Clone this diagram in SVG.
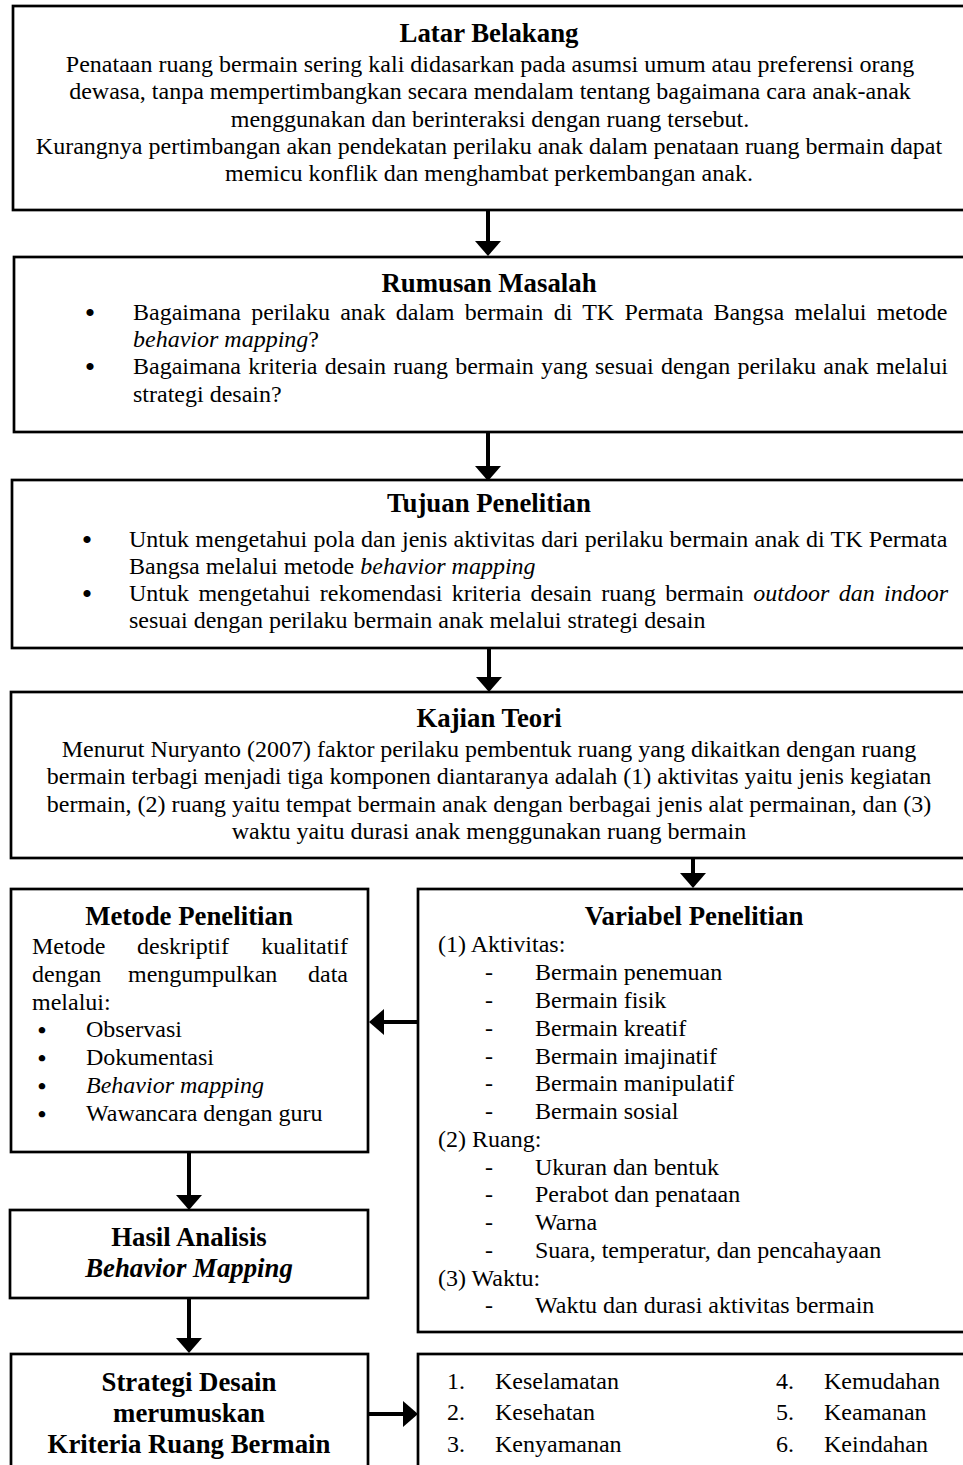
<svg xmlns="http://www.w3.org/2000/svg" width="963" height="1465" viewBox="0 0 963 1465">
<style>
text { font-family: "Liberation Serif", "Times New Roman", serif; font-size: 24px; fill: #000; }
.t { font-weight: bold; font-size: 26.8px; text-anchor: middle; }
.c { text-anchor: middle; }
.b { text-anchor: middle; font-size: 30px; }
.bs { text-anchor: middle; font-size: 24px; font-weight: bold; }
.i { font-style: italic; }
.box { fill: #fff; stroke: #000; stroke-width: 2.7; }
.arr { stroke: #000; stroke-width: 4; fill: none; marker-end: url(#ah); }
</style>
<defs>
<marker id="ah" markerUnits="userSpaceOnUse" markerWidth="16" markerHeight="26" refX="0" refY="13" orient="auto" viewBox="0 0 16 26">
<path d="M0,0 L15,13 L0,26 z" fill="#000"/>
</marker>
</defs>
<rect width="963" height="1465" fill="#fff"/>

<g id="latar">
<rect class="box" x="13" y="6" width="953" height="204"/>
<text class="t" x="489" y="42">Latar Belakang</text>
<text class="c" x="490" y="72">Penataan ruang bermain sering kali didasarkan pada asumsi umum atau preferensi orang</text>
<text class="c" x="490" y="99">dewasa, tanpa mempertimbangkan secara mendalam tentang bagaimana cara anak-anak</text>
<text class="c" x="490" y="127">menggunakan dan berinteraksi dengan ruang tersebut.</text>
<text class="c" x="489" y="154">Kurangnya pertimbangan akan pendekatan perilaku anak dalam penataan ruang bermain dapat</text>
<text class="c" x="489" y="181">memicu konflik dan menghambat perkembangan anak.</text>
</g>

<g id="rumusan">
<rect class="box" x="14" y="257" width="952" height="175"/>
<text class="t" x="489" y="292">Rumusan Masalah</text>
<text class="b" x="90" y="323">•</text>
<text x="133" y="320" word-spacing="4.3">Bagaimana perilaku anak dalam bermain di TK Permata Bangsa melalui metode</text>
<text x="133" y="347"><tspan class="i">behavior mapping</tspan>?</text>
<text class="b" x="90" y="377">•</text>
<text x="133" y="374" word-spacing="1.25">Bagaimana kriteria desain ruang bermain yang sesuai dengan perilaku anak melalui</text>
<text x="133" y="402">strategi desain?</text>
</g>

<g id="tujuan">
<rect class="box" x="12" y="480" width="954" height="168"/>
<text class="t" x="489" y="512">Tujuan Penelitian</text>
<text class="b" x="87" y="550">•</text>
<text x="129" y="547" word-spacing="0.26">Untuk mengetahui pola dan jenis aktivitas dari perilaku bermain anak di TK Permata</text>
<text x="129" y="574">Bangsa melalui metode <tspan class="i">behavior mapping</tspan></text>
<text class="b" x="87" y="604">•</text>
<text x="129" y="601" word-spacing="3.4">Untuk mengetahui rekomendasi kriteria desain ruang bermain <tspan class="i">outdoor dan indoor</tspan></text>
<text x="129" y="628">sesuai dengan perilaku bermain anak melalui strategi desain</text>
</g>

<g id="kajian">
<rect class="box" x="11" y="692" width="955" height="166"/>
<text class="t" x="489" y="727">Kajian Teori</text>
<text class="c" x="489" y="757">Menurut Nuryanto (2007) faktor perilaku pembentuk ruang yang dikaitkan dengan ruang</text>
<text class="c" x="489" y="784">bermain terbagi menjadi tiga komponen diantaranya adalah (1) aktivitas yaitu jenis kegiatan</text>
<text class="c" x="489" y="812">bermain, (2) ruang yaitu tempat bermain anak dengan berbagai jenis alat permainan, dan (3)</text>
<text class="c" x="489" y="839">waktu yaitu durasi anak menggunakan ruang bermain</text>
</g>

<g id="metode">
<rect class="box" x="11" y="889" width="357" height="263"/>
<text class="t" x="189" y="925">Metode Penelitian</text>
<text x="32" y="954">Metode</text>
<text x="137" y="954">deskriptif</text>
<text x="348" y="954" text-anchor="end">kualitatif</text>
<text x="32" y="982">dengan</text>
<text x="128" y="982">mengumpulkan</text>
<text x="348" y="982" text-anchor="end">data</text>
<text x="32" y="1010">melalui:</text>
<text class="bs" x="42" y="1038">•</text>
<text x="86" y="1037">Observasi</text>
<text class="bs" x="42" y="1066">•</text>
<text x="86" y="1065">Dokumentasi</text>
<text class="bs" x="42" y="1094">•</text>
<text x="86" y="1093" class="i">Behavior mapping</text>
<text class="bs" x="42" y="1122">•</text>
<text x="86" y="1121">Wawancara dengan guru</text>
</g>

<g id="variabel">
<rect class="box" x="418" y="889" width="548" height="443"/>
<text class="t" x="694" y="925">Variabel Penelitian</text>
<text x="438" y="952">(1) Aktivitas:</text>
<text class="c" x="489" y="980">-</text><text x="535" y="980">Bermain penemuan</text>
<text class="c" x="489" y="1008">-</text><text x="535" y="1008">Bermain fisik</text>
<text class="c" x="489" y="1036">-</text><text x="535" y="1036">Bermain kreatif</text>
<text class="c" x="489" y="1064">-</text><text x="535" y="1064">Bermain imajinatif</text>
<text class="c" x="489" y="1091">-</text><text x="535" y="1091">Bermain manipulatif</text>
<text class="c" x="489" y="1119">-</text><text x="535" y="1119">Bermain sosial</text>
<text x="438" y="1147">(2) Ruang:</text>
<text class="c" x="489" y="1175">-</text><text x="535" y="1175">Ukuran dan bentuk</text>
<text class="c" x="489" y="1202">-</text><text x="535" y="1202">Perabot dan penataan</text>
<text class="c" x="489" y="1230">-</text><text x="535" y="1230">Warna</text>
<text class="c" x="489" y="1258">-</text><text x="535" y="1258">Suara, temperatur, dan pencahayaan</text>
<text x="438" y="1286">(3) Waktu:</text>
<text class="c" x="489" y="1313">-</text><text x="535" y="1313">Waktu dan durasi aktivitas bermain</text>
</g>

<g id="hasil">
<rect class="box" x="10" y="1210" width="358" height="88"/>
<text class="t" x="189" y="1246">Hasil Analisis</text>
<text class="t i" x="189" y="1277">Behavior Mapping</text>
</g>

<g id="strategi">
<rect class="box" x="11" y="1354" width="357" height="120"/>
<text class="t" x="189" y="1391">Strategi Desain</text>
<text class="t" x="189" y="1422">merumuskan</text>
<text class="t" x="189" y="1453">Kriteria Ruang Bermain</text>
</g>

<g id="kriteria">
<rect class="box" x="418" y="1354" width="548" height="120"/>
<text x="447" y="1389">1.</text><text x="495" y="1389">Keselamatan</text>
<text x="447" y="1420">2.</text><text x="495" y="1420">Kesehatan</text>
<text x="447" y="1452">3.</text><text x="495" y="1452">Kenyamanan</text>
<text x="776" y="1389">4.</text><text x="824" y="1389">Kemudahan</text>
<text x="776" y="1420">5.</text><text x="824" y="1420">Keamanan</text>
<text x="776" y="1452">6.</text><text x="824" y="1452">Keindahan</text>
</g>

<g id="connectors">
<line class="arr" x1="488" y1="211" x2="488" y2="241"/>
<line class="arr" x1="488" y1="432" x2="488" y2="466"/>
<line class="arr" x1="489" y1="648" x2="489" y2="677"/>
<line class="arr" x1="693" y1="858" x2="693" y2="873"/>
<line class="arr" x1="418" y1="1022" x2="384" y2="1022"/>
<line class="arr" x1="189" y1="1152" x2="189" y2="1195"/>
<line class="arr" x1="189" y1="1298" x2="189" y2="1338"/>
<line class="arr" x1="368" y1="1414" x2="403" y2="1414"/>
</g>
</svg>
